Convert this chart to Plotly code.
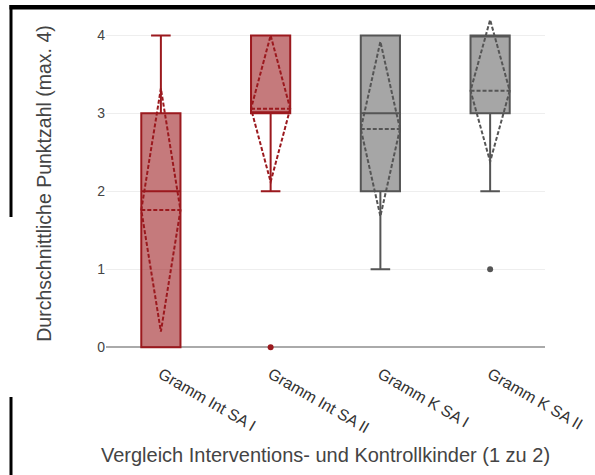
import plotly.graph_objects as go

# ---- data ----
categories = ["Gramm Int SA I", "Gramm Int SA II", "Gramm K SA I", "Gramm K SA II"]
q1_vals = [0, 3, 2, 3]
median_vals = [2, 3, 3, 4]
q3_vals = [3, 4, 4, 4]
lower_fence = [0, 2, 1, 2]
upper_fence = [4, 4, 4, 4]
mean_vals = [1.76, 3.06, 2.80, 3.29]
sd_vals = [1.56, 0.94, 1.12, 0.91]
outlier_x = ["Gramm Int SA II", "Gramm K SA II"]
outlier_y = [0, 1]
y_ticks = [0, 1, 2, 3, 4]

RED = "rgb(155,25,30)"
RED_FILL = "rgba(155,25,30,0.58)"
GRAY = "rgb(85,85,85)"
GRAY_FILL = "rgba(85,85,85,0.52)"
line_colors = [RED, RED, GRAY, GRAY]
fill_colors = [RED_FILL, RED_FILL, GRAY_FILL, GRAY_FILL]
outlier_colors = [RED, GRAY]

W, H = 595, 475
ML, MR, MT, MB = 106, 50, 12, 120

fig = go.Figure()
for i, cat in enumerate(categories):
    fig.add_trace(go.Box(
        x=[cat],
        q1=[q1_vals[i]], median=[median_vals[i]], q3=[q3_vals[i]],
        lowerfence=[lower_fence[i]], upperfence=[upper_fence[i]],
        mean=[mean_vals[i]], sd=[sd_vals[i]],
        boxmean="sd",
        boxpoints=False,
        line=dict(color=line_colors[i], width=2),
        fillcolor=fill_colors[i],
        whiskerwidth=0.5,
        showlegend=False,
        hoverinfo="skip",
    ))

fig.add_trace(go.Scatter(
    x=outlier_x, y=outlier_y, mode="markers",
    marker=dict(color=outlier_colors, size=6),
    showlegend=False, hoverinfo="skip", cliponaxis=False,
))

def px_to_paper_x(px):
    return (px - ML) / (W - ML - MR)

def px_to_paper_y(py):
    return (H - MB - py) / (H - MB - MT)

# black frame remnants at the picture edges (as rectangles, in pixels)
frame_rects = [
    (9.5, 5, 595, 9.5),       # top
    (9.5, 5, 12.5, 217),      # left upper
    (9.5, 397, 12.5, 475),    # left lower
]
shapes = []
for x0, y0, x1, y1 in frame_rects:
    shapes.append(dict(type="rect", xref="paper", yref="paper", layer="above",
                       x0=px_to_paper_x(x0), y0=px_to_paper_y(y1),
                       x1=px_to_paper_x(x1), y1=px_to_paper_y(y0),
                       fillcolor="black", line=dict(width=0)))

fig.update_layout(
    width=W, height=H,
    margin=dict(l=ML, r=MR, t=MT, b=MB, autoexpand=False),
    paper_bgcolor="white", plot_bgcolor="white",
    font=dict(family="Liberation Sans, Arial, sans-serif", color="#444", size=13),
    boxmode="overlay",
    boxgap=0.49,
    shapes=shapes,
    xaxis=dict(
        type="category",
        categoryorder="array", categoryarray=categories,
        range=[-0.5, 3.5],
        tickangle=30,
        tickfont=dict(size=16, color="#333"),
        ticklabelstandoff=6,
        showgrid=False, showline=False, zeroline=False,
        ticks="",
        title=dict(text="Vergleich Interventions- und Kontrollkinder (1 zu 2)",
                   font=dict(size=20, color="#444"), standoff=12),
        automargin=False,
    ),
    yaxis=dict(
        range=[-0.1, 4.3],
        tickvals=y_ticks,
        tickfont=dict(size=14, color="#444"),
        showgrid=True, gridcolor="#eeeeee", gridwidth=1,
        zeroline=True, zerolinecolor="#aaaaaa", zerolinewidth=2,
        showline=False, ticks="",
        title=dict(text="Durchschnittliche Punktzahl (max. 4)",
                   font=dict(size=19.5, color="#444"), standoff=40),
        automargin=False,
    ),
)

fig.write_html("out.html", config={"displayModeBar": False},
               post_script="document.body.style.margin='0';")
